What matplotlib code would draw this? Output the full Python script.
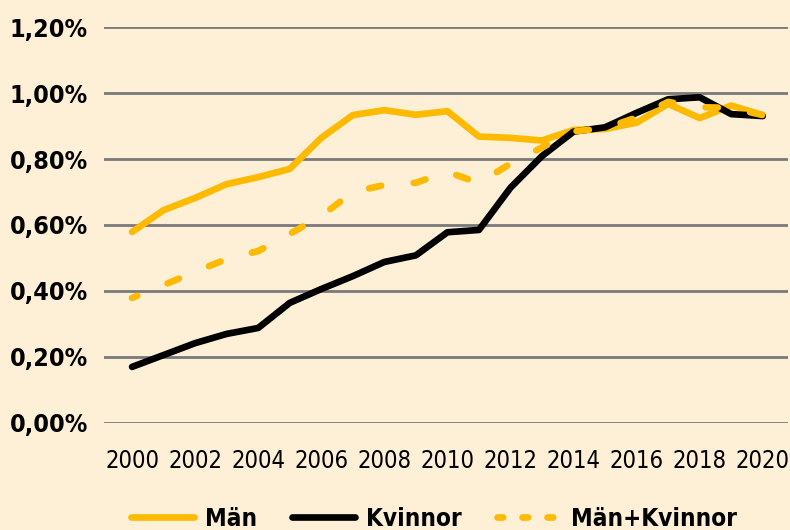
import matplotlib
matplotlib.use("Agg")
import matplotlib.pyplot as plt
from matplotlib.lines import Line2D
from matplotlib.font_manager import FontProperties

years = list(range(2000, 2021))
man = [0.579, 0.645, 0.682, 0.724, 0.745, 0.770, 0.864, 0.933, 0.948, 0.934, 0.945,
       0.868, 0.864, 0.856, 0.888, 0.891, 0.910, 0.967, 0.924, 0.962, 0.933]
kvinnor = [0.170, 0.206, 0.242, 0.270, 0.288, 0.364, 0.406, 0.445, 0.488, 0.508, 0.578,
           0.585, 0.713, 0.809, 0.883, 0.896, 0.940, 0.981, 0.987, 0.936, 0.930]
totalt = [0.379, 0.418, 0.458, 0.497, 0.521, 0.573, 0.627, 0.700, 0.721, 0.728, 0.761,
          0.727, 0.786, 0.835, 0.884, 0.893, 0.926, 0.973, 0.957, 0.955, 0.933]
yticks = [0.0, 0.2, 0.4, 0.6, 0.8, 1.0, 1.2]
ytick_labels = ["0,00%", "0,20%", "0,40%", "0,60%", "0,80%", "1,00%", "1,20%"]
xticks = list(range(2000, 2021, 2))
series_names = ["Män", "Kvinnor", "Män+Kvinnor"]

bg = "#FEF0D7"
yellow = "#FDBA00"
black = "#000000"

fig = plt.figure(figsize=(7.9, 5.3), dpi=100, facecolor=bg)
ax = fig.add_axes([104/790, (530-423)/530, (788-104)/790, (423-27)/530])
ax.set_facecolor(bg)

lw = 4.8
ax.plot(years, man, color=yellow, lw=lw, solid_capstyle="round", solid_joinstyle="round", zorder=3)
ax.plot(years, kvinnor, color=black, lw=lw, solid_capstyle="round", solid_joinstyle="round", zorder=4)
ax.plot(years, totalt, color=yellow, lw=lw, linestyle=(1.0, (1.85, 4.9)),
        dash_capstyle="round", dash_joinstyle="round", zorder=5)

ax.set_ylim(0, 1.2)
ax.set_xlim(1999.11, 2020.8)
ax.set_yticks(yticks)
yfp = FontProperties(family="DejaVu Sans", weight="bold", stretch="condensed", size=18)
xfp = FontProperties(family="DejaVu Sans", stretch="condensed", size=17)
lfp = FontProperties(family="DejaVu Sans", weight="bold", stretch="condensed", size=17.5)
ax.set_yticklabels(ytick_labels, fontproperties=yfp)
ax.set_xticks(xticks)
ax.set_xticklabels([str(x) for x in xticks], fontproperties=xfp)
ax.tick_params(axis="both", length=0)
ax.tick_params(axis="y", pad=11.5)
ax.tick_params(axis="x", pad=18.5)
for s in ax.spines.values():
    s.set_visible(False)
ax.grid(axis="y", color="#7a7a7a", lw=2.0, zorder=1)
ax.set_axisbelow(True)

handles = [
    Line2D([], [], color=yellow, lw=lw, solid_capstyle="round"),
    Line2D([], [], color=black, lw=lw, solid_capstyle="round"),
    Line2D([], [], color=yellow, lw=lw, linestyle=(0, (0.85, 2.9)), dash_capstyle="round"),
]
leg = fig.legend(handles, series_names, loc="center", bbox_to_anchor=(434/790, (530-519)/530),
                 ncol=3, frameon=False, handlelength=2.6, columnspacing=1.45, handletextpad=0.45,
                 prop=lfp, borderpad=0, borderaxespad=0)

fig.savefig("out.png", dpi=100, facecolor=bg)
